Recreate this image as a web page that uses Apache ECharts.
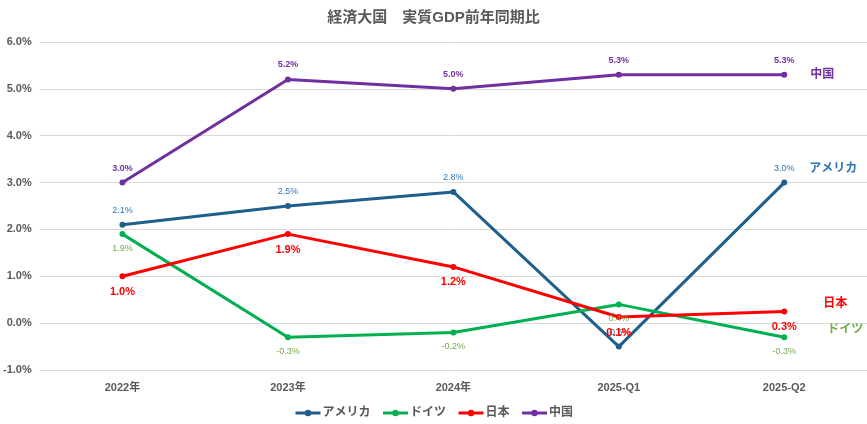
<!DOCTYPE html>
<html><head><meta charset="utf-8">
<script src="https://cdn.jsdelivr.net/npm/echarts@6/dist/echarts.min.js"></script>
<style>html,body{margin:0;padding:0;background:#fff}#c{width:867px;height:424px}</style>
</head><body><div id="c"></div>
<script>
const categories = ['2022年','2023年','2024年','2025-Q1','2025-Q2'];
const usa = [2.1, 2.5, 2.8, -0.5, 3.0];
const germany = [1.9, -0.3, -0.2, 0.4, -0.3];
const japan = [1.0, 1.9, 1.2, 0.13, 0.25];
const china = [3.0, 5.2, 5.0, 5.3, 5.3];
const yTicks = [-1, 0, 1, 2, 3, 4, 5, 6];

const FONT = '"Liberation Sans","Noto Sans CJK JP",sans-serif';
const fmt = v => (Math.round(v * 10) / 10).toFixed(1) + '%';

function mk(name, data, lineColor, lblColor, pos, bold, size, endOpts) {
  return {
    name, type: 'line', data,
    symbol: 'circle', symbolSize: 6,
    lineStyle: { width: 3, color: lineColor },
    itemStyle: { color: lineColor },
    label: { show: true, position: pos, distance: 7, color: lblColor, fontSize: size,
      fontWeight: bold ? 'bold' : 'normal', fontFamily: FONT,
      formatter: p => fmt(p.value) },
    endLabel: Object.assign({ show: true, formatter: name, color: lblColor, fontSize: 12,
      fontWeight: 'bold', fontFamily: FONT }, endOpts),
    labelLayout: { hideOverlap: false },
    emphasis: { disabled: true }
  };
}

const chart = echarts.init(document.getElementById('c'));
chart.setOption({
  animation: false,
  backgroundColor: '#fff',
  title: { text: '経済大国　実質GDP前年同期比', left: 'center', top: 5,
    textStyle: { fontSize: 15, fontWeight: 'bold', color: '#595959', fontFamily: FONT } },
  grid: { left: 35, right: 0, top: 42, bottom: 54 },
  legend: { bottom: 0, itemWidth: 25, itemHeight: 8, itemGap: 11,
    lineStyle: { width: 3 },
    textStyle: { color: '#595959', fontSize: 12, fontWeight: 'bold', fontFamily: FONT, padding: [0, 0, 0, -3] },
    data: ['アメリカ','ドイツ','日本','中国'] },
  xAxis: { type: 'category', data: categories, boundaryGap: true,
    axisLine: { show: false }, axisTick: { show: false },
    axisLabel: { color: '#595959', fontWeight: 'bold', fontSize: 11, margin: 12, fontFamily: FONT } },
  yAxis: { type: 'value', min: yTicks[0], max: yTicks[yTicks.length - 1], interval: 1,
    axisLine: { show: false }, axisTick: { show: false },
    splitLine: { lineStyle: { color: '#d9d9d9' } },
    axisLabel: { color: '#595959', fontWeight: 'bold', fontSize: 11, margin: 8, fontFamily: FONT,
      formatter: v => v.toFixed(1) + '%' } },
  series: [
    mk('アメリカ', usa, '#1F5F8B', '#2E75B6', 'top', false, 9, { offset: [17, -14] }),
    mk('ドイツ', germany, '#00B050', '#70AD47', 'bottom', false, 9, { offset: [35, -8] }),
    mk('日本', japan, '#FF0000', '#FF0000', 'bottom', true, 11, { offset: [31, -8] }),
    mk('中国', china, '#7030A0', '#7030A0', 'top', true, 9, { offset: [18, 0] })
  ]
});
</script></body></html>
